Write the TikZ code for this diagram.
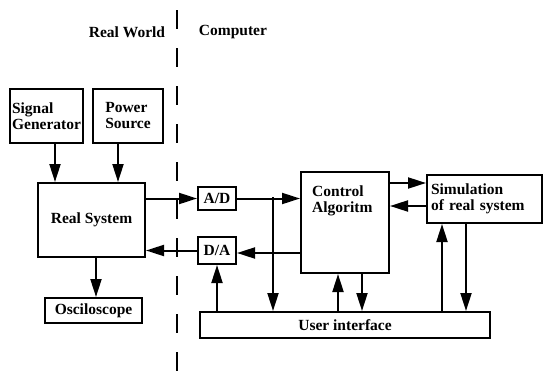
\documentclass[tikz,border=0pt]{standalone}
\usepackage{fontspec}
\setmainfont{Liberation Serif}
\usetikzlibrary{arrows.meta}
\begin{document}
\begin{tikzpicture}[x=1pt,y=-1pt,
  txt/.style={font=\bfseries\fontsize{15.5}{16}\selectfont},
  box/.style={draw,line width=2pt,inner sep=2pt,align=left,txt},
  arr/.style={line width=2pt,-{Triangle[length=18pt,width=11pt]}}]
  \useasboundingbox (0,0) rectangle (543,380);
  % border between the two worlds
  \coordinate (top) at (177,10);
  \coordinate (bot) at (177,380);
  \draw[line width=2.4pt,dash pattern=on 19pt off 19pt] (top) -- (bot);
  \node[txt] (rw) at (127,32) {Real World};
  \node[txt] (pc) at (233,32) {Computer};
  % real world
  \node[box,minimum width=73pt,minimum height=54pt] (sig) at (46.5,116) {Signal\\Generator};
  \node[box,minimum width=70pt,minimum height=54pt] (pow) at (128,116) {Power\\Source};
  \node[box,minimum width=107pt,minimum height=74pt] (real) at (91.5,220) {Real System};
  \node[box,minimum width=97pt,minimum height=25pt,inner sep=0pt] (osc) at (93.5,310.5) {Osciloscope};
  \draw[arr] ([xshift=8.5pt]sig.south) -- ([xshift=8.5pt]sig.south |- real.north);
  \draw[arr] ([xshift=-10pt]pow.south) -- ([xshift=-10pt]pow.south |- real.north);
  \draw[arr] ([xshift=4.5pt]real.south) -- ([xshift=4.5pt]real.south |- osc.north);
  % computer
  \node[box,minimum width=38pt,minimum height=23pt,inner sep=0pt] (ad) at (217,198.5) {A/D};
  \node[box,minimum width=38pt,minimum height=27pt,inner sep=0pt] (da) at (217,250.5) {D/A};
  \node[box,minimum width=88pt,minimum height=101pt,
    label={[txt,align=left,inner sep=0pt,anchor=north west,xshift=12pt,yshift=-15pt]north west:{Control\\Algoritm}}] (ctrl) at (345,222.5) {};
  \node[box,text width=107pt,minimum height=48pt,inner xsep=4pt] (sim) at (484.5,199) {Simulation\\of real system};
  \node[box,minimum width=290pt,minimum height=26pt,inner sep=0pt] (ui) at (345,325) {User interface};
  \coordinate (br) at (273,197);
  \draw[arr] (ad.west -| real.east) -- (ad.west);
  \draw[arr] (da.west) -- (da.west -| real.east);
  \draw[arr] (ad.east) -- (ad.east -| ctrl.west);
  \draw[arr] (br) -- (br |- ui.north);
  \draw[arr] ([yshift=-2.5pt]da.east -| ctrl.west) -- ([yshift=-2.5pt]da.east);
  \draw[arr] (ui.north -| da.south) -- (da.south);
  \draw[arr] ([yshift=16pt]sim.west -| ctrl.east) -- ([yshift=16pt]sim.west);
  \draw[arr] ([yshift=-7pt]sim.west) -- ([yshift=-7pt]sim.west -| ctrl.east);
  \draw[arr] ([xshift=-7pt]ctrl.south |- ui.north) -- ([xshift=-7pt]ctrl.south);
  \draw[arr] ([xshift=17pt]ctrl.south) -- ([xshift=17pt]ctrl.south |- ui.north);
  \draw[arr] ([xshift=-42.5pt]sim.south |- ui.north) -- ([xshift=-42.5pt]sim.south);
  \draw[arr] ([xshift=-18.5pt]sim.south) -- ([xshift=-18.5pt]sim.south |- ui.north);
\end{tikzpicture}
\end{document}
